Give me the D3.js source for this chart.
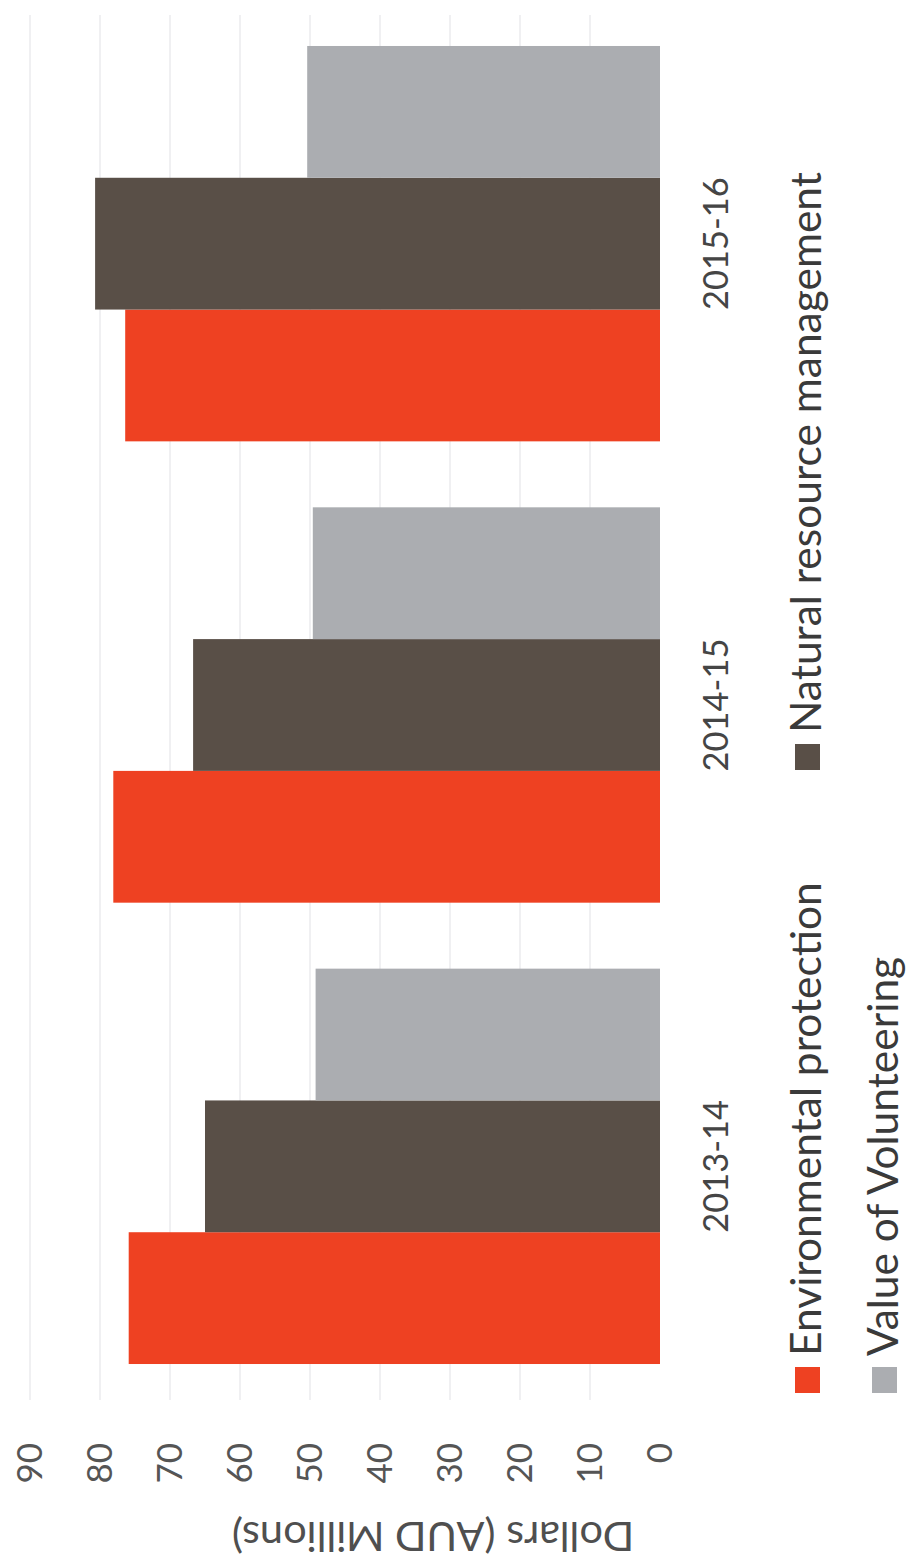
<!DOCTYPE html>
<html>
<head>
<meta charset="utf-8">
<script src="https://cdn.jsdelivr.net/npm/d3@7"></script>
<style>
  html, body { margin: 0; padding: 0; background: #ffffff; }
  svg { display: block; }
  text { font-family: Lato, "Open Sans", sans-serif; }
</style>
</head>
<body>
<svg id="chart" width="909" height="1567"></svg>
<script>
// Funding by financial year (AUD millions)
const categories = ["2013-14", "2014-15", "2015-16"];
const seriesNames = ["Environmental protection", "Natural resource management", "Value of Volunteering"];
const environmentalProtection = [75.9, 78.1, 76.4];
const naturalResourceManagement = [65.0, 66.7, 80.7];
const valueOfVolunteering = [49.2, 49.6, 50.4];
const valueTicks = [0, 10, 20, 30, 40, 50, 60, 70, 80, 90];
const axisTitle = "Dollars (AUD Millions)";

const seriesValues = [environmentalProtection, naturalResourceManagement, valueOfVolunteering];
const colors = ["#ee4122", "#594f47", "#abadb1"];

// The chart is laid out as an ordinary column chart in a 1567 x 909 frame,
// then turned a quarter-turn anticlockwise onto the page.
const W = 1567, H = 909;
const svg = d3.select("#chart");
const g = svg.append("g").attr("transform", `translate(0,${W}) rotate(-90)`);

const x = d3.scaleBand().domain(categories).range([170, 1554])
  .paddingInner(0.143).paddingOuter(0.0715);
const xs = d3.scaleBand().domain(seriesNames).range([0, x.bandwidth()]);
const y = d3.scaleLinear().domain([0, 90]).range([660, 30]);

// gridlines
g.append("g").selectAll("line")
  .data(valueTicks.filter(t => t > 0))
  .join("line")
  .attr("x1", 167).attr("x2", 1552)
  .attr("y1", d => y(d)).attr("y2", d => y(d))
  .attr("stroke", "#e6e6ea").attr("stroke-width", 1.2);

// bars
const rows = categories.map((c, i) => ({
  category: c,
  values: seriesNames.map((s, j) => ({ series: s, j, value: seriesValues[j][i] }))
}));
g.append("g").selectAll("g")
  .data(rows)
  .join("g")
  .attr("transform", d => `translate(${x(d.category)},0)`)
  .selectAll("rect")
  .data(d => d.values)
  .join("rect")
  .attr("x", d => xs(d.series))
  .attr("width", xs.bandwidth())
  .attr("y", d => y(d.value))
  .attr("height", d => y(0) - y(d.value))
  .attr("fill", d => colors[d.j]);

// value axis labels
const yAxis = g.append("g")
  .attr("transform", "translate(124,0)")
  .call(d3.axisLeft(y).tickValues(valueTicks).tickSize(0).tickPadding(0));
yAxis.select(".domain").remove();
yAxis.selectAll("text")
  .attr("font-size", 35).attr("fill", "#555555")
  .attr("font-family", "Lato, sans-serif");

// category labels
const xAxis = g.append("g")
  .attr("transform", `translate(0,${y(0)})`)
  .call(d3.axisBottom(x).tickSize(0).tickPadding(44));
xAxis.select(".domain").remove();
xAxis.selectAll("text")
  .attr("font-size", 34.5).attr("fill", "#454545")
  .attr("font-family", "Lato, sans-serif");

// value axis title
g.append("text")
  .attr("transform", `translate(45,433) rotate(-90)`)
  .attr("text-anchor", "middle")
  .attr("font-size", 41.5).attr("fill", "#4f4f4f")
  .text(axisTitle);

// legend
const legendItems = [
  { name: seriesNames[0], color: colors[0], u: 174, v: 795 },
  { name: seriesNames[1], color: colors[1], u: 797, v: 795 },
  { name: seriesNames[2], color: colors[2], u: 174, v: 872 }
];
const legend = g.append("g").selectAll("g")
  .data(legendItems)
  .join("g")
  .attr("transform", d => `translate(${d.u},${d.v})`);
legend.append("rect")
  .attr("width", 26).attr("height", 25)
  .attr("fill", d => d.color);
legend.append("text")
  .attr("x", 37).attr("y", 26)
  .attr("font-size", 42.5).attr("fill", "#3a3a3a")
  .text(d => d.name);
</script>
</body>
</html>
